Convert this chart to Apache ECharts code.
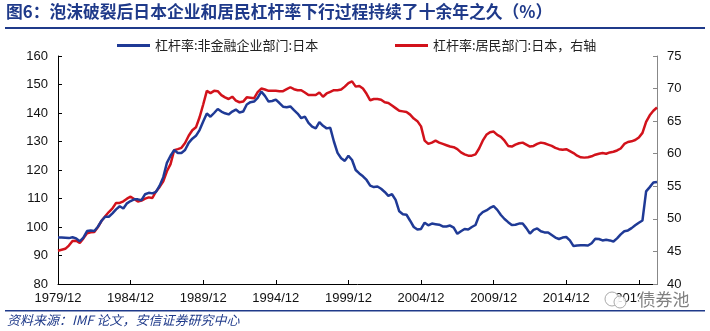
<!DOCTYPE html>
<html><head><meta charset="utf-8">
<script src="https://cdn.jsdelivr.net/npm/echarts@6/dist/echarts.min.js"></script>
<style>html,body{margin:0;padding:0;background:#fff}#c{width:710px;height:331px}</style>
</head><body><div id="c"></div>
<script>
// quarterly categories 1979/12 .. 2021/03
const categories = [];
(function(){ let y=1979, m=12; for(let k=0;k<166;k++){ categories.push(y+'/'+(m<10?'0'+m:m)); m+=3; if(m>12){m-=12;y++;} } })();

const corpName = '杠杆率:非金融企业部门:日本';
const houseName = '杠杆率:居民部门:日本，右轴';

// non-financial corporate leverage (left axis, %)
const corpValues = [
96.3,96.3,96.2,96.1,96.4,96.0,95.0,96.3,98.6,98.8,
98.6,100.1,102.2,103.6,103.6,104.8,106.2,107.3,106.5,108.3,
109.1,109.7,109.7,109.4,111.5,112.0,111.8,112.3,114.5,117.5,
122.5,125.0,127.0,126.0,126.0,127.0,129.5,131.0,132.0,134.0,
137.0,139.8,138.7,140.0,141.4,140.5,139.9,139.5,140.5,141.2,
140.2,140.5,143.0,143.8,144.0,145.3,147.5,146.0,144.0,144.2,
144.7,143.5,142.2,142.0,142.3,141.0,139.8,138.2,138.7,136.5,
135.2,134.6,136.8,135.5,134.6,134.8,130.0,126.0,124.1,123.2,
125.0,123.5,120.0,118.8,117.8,116.5,114.5,114.0,114.2,113.4,
112.3,110.9,111.5,109.5,105.5,104.5,104.3,102.2,100.0,99.1,
99.3,101.5,100.6,101.2,101.0,100.8,100.2,100.2,100.5,99.8,
97.6,98.5,99.3,99.1,100.0,100.7,104.0,105.2,105.8,106.7,
107.3,106.0,104.2,102.8,101.7,100.7,100.8,101.2,101.2,99.6,
97.7,99.0,99.5,98.5,98.1,98.1,97.2,96.3,95.8,96.3,
96.5,95.3,93.3,93.5,93.6,93.6,93.5,94.3,95.9,95.8,
95.3,95.5,95.3,94.9,96.0,97.4,98.5,98.8,99.6,100.6,
101.5,102.3,112.5,114.0,115.6,115.8
];

// household leverage (right axis, %)
const houseValues = [
45.1,45.25,45.4,45.9,46.6,46.65,46.3,47.0,47.8,47.95,
48.0,48.75,49.7,50.4,51.05,51.6,52.45,52.45,52.7,53.1,
53.4,53.05,52.65,52.8,53.1,53.3,53.2,54.2,54.9,55.75,
57.3,58.4,60.55,60.7,60.9,61.65,62.75,63.6,64.05,65.6,
67.55,69.65,69.3,69.65,69.6,69.0,68.65,68.4,68.75,68.15,
67.9,68.0,68.65,68.6,68.5,69.45,70.0,69.85,69.65,69.65,
69.65,69.6,69.6,69.9,70.2,69.9,69.75,69.75,69.4,69.0,
69.0,69.0,69.4,68.75,69.25,69.5,69.75,69.75,69.85,70.3,
70.85,71.1,70.3,70.4,70.0,69.2,68.2,68.4,68.4,68.3,
67.9,67.8,67.4,67.0,66.6,66.5,66.4,66.0,65.4,65.0,
64.2,62.0,61.5,61.7,62.0,61.7,61.5,61.3,61.1,61.0,
60.7,60.2,59.9,59.7,59.7,59.9,60.8,62.0,62.9,63.3,
63.4,62.9,62.6,62.0,61.2,61.1,61.4,61.6,61.7,61.4,
61.1,61.2,61.5,61.7,61.6,61.4,61.2,60.9,60.7,60.6,
60.7,60.4,60.1,59.7,59.45,59.4,59.45,59.6,59.85,60.0,
60.1,60.0,60.2,60.3,60.5,60.8,61.5,61.8,61.9,62.1,
62.5,63.2,64.9,65.9,66.6,67.1
];

const leftTicks = {min:80, max:160, interval:10};
const rightTicks = {min:40, max:75, interval:5};

const blue = '#1f3a96', red = '#d2121b';
const numFont = '"Liberation Sans", Arial, sans-serif';
const cjkFont = '"Noto Sans CJK SC", sans-serif';

const chart = echarts.init(document.getElementById('c'), null, {renderer:'canvas'});
chart.setOption({
  animation:false,
  backgroundColor:'#fff',
  grid:{left:58, right:53, top:56, bottom:47, containLabel:false},
  graphic:[
    {type:'text', left:6, top:3, style:{text:'图6：泡沫破裂后日本企业和居民杠杆率下行过程持续了十余年之久（%）', font:'bold 16.8px '+cjkFont, fill:'#1f3a8a'}},
    {type:'rect', shape:{x:5, y:27, width:700, height:2}, style:{fill:'#1f3a8a'}},
    {type:'rect', shape:{x:5, y:310, width:700, height:1.5}, style:{fill:'#1f3a8a'}},
    {type:'text', left:7, top:314, style:{text:'资料来源：IMF 论文，安信证券研究中心', font:'italic 13px '+cjkFont, fill:'#1f3a8a'}},
    {type:'circle', z:99, shape:{cx:612, cy:299, r:7}, style:{fill:'rgba(255,255,255,0.85)', stroke:'#aaa', lineWidth:1}},
    {type:'circle', z:99, shape:{cx:620, cy:302, r:6}, style:{fill:'rgba(255,255,255,0.85)', stroke:'#aaa', lineWidth:1}},
    {type:'text', left:637, top:290, z:100, style:{text:'债券池', font:'17px '+cjkFont, fill:'#808080', stroke:'#fff', lineWidth:3}}
  ],
  legend:[
    {data:[corpName], left:112, top:34, icon:'rect', itemWidth:33, itemHeight:3, itemGap:4,
     textStyle:{fontSize:13, fontFamily:cjkFont, color:'#222'}},
    {data:[houseName], left:390, top:34, icon:'rect', itemWidth:33, itemHeight:3, itemGap:4,
     textStyle:{fontSize:13, fontFamily:cjkFont, color:'#222'}}
  ],
  xAxis:{
    type:'category', data:categories, boundaryGap:false,
    axisLine:{lineStyle:{color:'#000', width:1}},
    axisTick:{inside:true, length:4, interval:19, lineStyle:{color:'#000'}},
    axisLabel:{interval:19, color:'#111', fontSize:13, fontFamily:numFont, margin:8}
  },
  yAxis:[
    {type:'value', min:leftTicks.min, max:leftTicks.max, interval:leftTicks.interval,
     axisLine:{show:true, lineStyle:{color:'#000'}},
     axisTick:{show:true, inside:true, length:4, lineStyle:{color:'#000'}},
     splitLine:{show:false},
     axisLabel:{color:'#111', fontSize:13, fontFamily:numFont, margin:10}},
    {type:'value', position:'right', min:rightTicks.min, max:rightTicks.max, interval:rightTicks.interval,
     axisLine:{show:true, lineStyle:{color:'#888'}},
     axisTick:{show:true, inside:true, length:4, lineStyle:{color:'#888'}},
     splitLine:{show:false},
     axisLabel:{color:'#111', fontSize:13, fontFamily:numFont, margin:10}}
  ],
  series:[
    {name:corpName, type:'line', yAxisIndex:0, data:corpValues, showSymbol:false, symbol:'none',
     lineStyle:{color:blue, width:2.5}, itemStyle:{color:blue}, z:3},
    {name:houseName, type:'line', yAxisIndex:1, data:houseValues, showSymbol:false, symbol:'none',
     lineStyle:{color:red, width:2.5}, itemStyle:{color:red}, z:2}
  ]
});
</script></body></html>
